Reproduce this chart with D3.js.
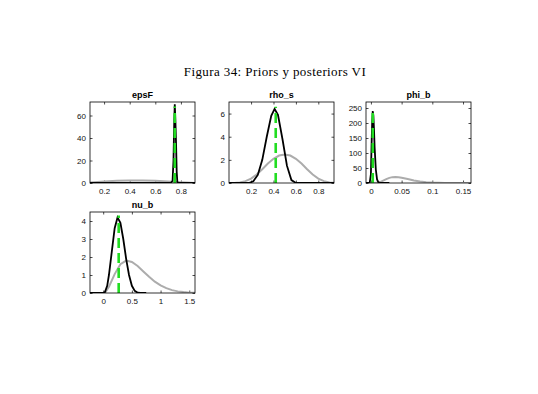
<!DOCTYPE html>
<html>
<head>
<meta charset="utf-8">
<script src="https://cdn.jsdelivr.net/npm/d3@7"></script>
<style>
  body { margin: 0; background: #fff; }
  svg text { font-family: "Liberation Sans", Arial, sans-serif; }
</style>
</head>
<body>
<div id="chart"></div>
<script>
// datos
const epsF_priorX = [0.09, 0.15, 0.2, 0.3, 0.4, 0.5, 0.6, 0.7, 0.8, 0.91];
const epsF_priorY = [0.5, 1.0, 1.3, 1.9, 2.2, 2.2, 1.9, 1.3, 0.6, 0.05];
const epsF_postX = [0.09, 0.72, 0.735, 0.742, 0.748, 0.752, 0.757, 0.762, 0.767, 0.772, 0.78, 0.91];
const epsF_postY = [0, 0, 2, 20, 55, 70, 55, 35, 10, 1, 0, 0];
const epsF_mode = 0.752, epsF_modeH = 68;

const rho_priorX = [0, 0.05, 0.1, 0.15, 0.2, 0.25, 0.3, 0.35, 0.4, 0.45, 0.5, 0.55, 0.6, 0.65, 0.7, 0.75, 0.8, 0.85, 0.9, 0.94];
const rho_priorY = [0, 0.01, 0.05, 0.16, 0.38, 0.73, 1.19, 1.68, 2.09, 2.37, 2.46, 2.37, 2.09, 1.68, 1.19, 0.73, 0.38, 0.16, 0.05, 0.02];
const rho_postX = [0, 0.18, 0.22, 0.26, 0.3, 0.34, 0.38, 0.41, 0.44, 0.48, 0.52, 0.56, 0.6, 0.94];
const rho_postY = [0, 0, 0.15, 0.7, 2.0, 4.0, 5.8, 6.4, 5.9, 3.8, 1.5, 0.25, 0, 0];
const rho_mode = 0.42, rho_modeH = 6.6;

const phi_priorX = [0.005, 0.01, 0.015, 0.02, 0.025, 0.03, 0.035, 0.04, 0.045, 0.05, 0.06, 0.07, 0.08, 0.09, 0.1, 0.11, 0.12, 0.13, 0.15, 0.165];
const phi_priorY = [0, 0.5, 3, 8, 13, 17, 19.5, 20, 19.5, 17.5, 13, 8.5, 5, 2.8, 1.5, 0.8, 0.4, 0.2, 0.05, 0.02];
const phi_postX = [-0.008, -0.002, 0, 0.001, 0.002, 0.003, 0.004, 0.005, 0.006, 0.008, 0.01, 0.012, 0.015, 0.03];
const phi_postY = [0, 0, 30, 120, 200, 240, 225, 180, 120, 45, 12, 3, 0, 0];
const phi_mode = 0.003, phi_modeH = 250;

const nu_priorX = [0.03, 0.1, 0.2, 0.3, 0.4, 0.5, 0.6, 0.7, 0.8, 0.9, 1.0, 1.1, 1.2, 1.3, 1.4, 1.5, 1.6];
const nu_priorY = [0, 0.35, 1.05, 1.6, 1.8, 1.72, 1.5, 1.2, 0.9, 0.63, 0.42, 0.27, 0.16, 0.09, 0.05, 0.02, 0.01];
const nu_postX = [-0.23, 0, 0.03, 0.07, 0.1, 0.15, 0.2, 0.25, 0.3, 0.35, 0.4, 0.45, 0.5, 0.55, 0.6, 0.65, 0.75];
const nu_postY = [0, 0, 0.05, 0.4, 1.0, 2.3, 3.6, 4.2, 3.9, 3.0, 1.9, 1.0, 0.4, 0.12, 0.02, 0, 0];
const nu_mode = 0.27, nu_modeH = 4.3;

const titles = ["epsF", "rho_s", "phi_b", "nu_b"];
const xTicks = [[0.2, 0.4, 0.6, 0.8], [0.2, 0.4, 0.6, 0.8], [0, 0.05, 0.1, 0.15], [0, 0.5, 1, 1.5]];
const yTicks = [[0, 20, 40, 60], [0, 2, 4, 6], [0, 50, 100, 150, 200, 250], [0, 1, 2, 3, 4]];
const xDomains = [[0.09, 0.91], [0.003, 0.94], [-0.008, 0.163], [-0.23, 1.6]];
const yDomains = [[0, 72], [0, 7], [0, 270], [0, 4.5]];

const W = 538, H = 394;
const pw = 105, ph = 81;
const lefts = [90, 229, 366, 90];
const tops = [102, 102, 102, 212];

const priors = [[epsF_priorX, epsF_priorY], [rho_priorX, rho_priorY], [phi_priorX, phi_priorY], [nu_priorX, nu_priorY]];
const posts = [[epsF_postX, epsF_postY], [rho_postX, rho_postY], [phi_postX, phi_postY], [nu_postX, nu_postY]];
const modes = [[epsF_mode, epsF_modeH], [rho_mode, rho_modeH], [phi_mode, phi_modeH], [nu_mode, nu_modeH]];

const svg = d3.select("#chart").append("svg")
  .attr("width", W)
  .attr("height", H);

svg.append("text")
  .attr("x", 275)
  .attr("y", 76)
  .attr("text-anchor", "middle")
  .style("font-family", "'Liberation Serif', 'DejaVu Serif', serif")
  .style("font-size", "13px")
  .style("letter-spacing", "0.4px")
  .text("Figura 34: Priors y posteriors VI");

titles.forEach((t, i) => {
  const g = svg.append("g").attr("transform", "translate(" + lefts[i] + "," + tops[i] + ")");

  const x = d3.scaleLinear().domain(xDomains[i]).range([0, pw]);
  const y = d3.scaleLinear().domain(yDomains[i]).range([ph, 0]);

  g.append("clipPath").attr("id", "clip" + i)
    .append("rect").attr("width", pw).attr("height", ph);

  // ejes con ticks hacia dentro en los cuatro lados
  const xb = g.append("g").attr("transform", "translate(0," + ph + ")")
    .call(d3.axisBottom(x).tickValues(xTicks[i]).tickSize(-2.5).tickPadding(5).tickFormat(d => String(d)));
  const xt = g.append("g")
    .call(d3.axisTop(x).tickValues(xTicks[i]).tickSize(-2.5).tickFormat(""));
  const yl = g.append("g")
    .call(d3.axisLeft(y).tickValues(yTicks[i]).tickSize(-2.5).tickPadding(4).tickFormat(d => String(d)));
  const yr = g.append("g").attr("transform", "translate(" + pw + ",0)")
    .call(d3.axisRight(y).tickValues(yTicks[i]).tickSize(-2.5).tickFormat(""));
  [xb, xt, yl, yr].forEach(a => {
    a.select(".domain").remove();
    a.selectAll("line").attr("stroke", "#000").attr("stroke-width", 0.7);
    a.selectAll("text").attr("fill", "#111").style("font-size", "8px");
  });

  const line = d3.line().x(d => x(d[0])).y(d => y(d[1]));
  const plot = g.append("g").attr("clip-path", "url(#clip" + i + ")");

  plot.append("path")
    .datum(priors[i][0].map((v, k) => [v, priors[i][1][k]]))
    .attr("d", line)
    .attr("fill", "none")
    .attr("stroke", "#acacac")
    .attr("stroke-width", 2);

  plot.append("path")
    .datum(posts[i][0].map((v, k) => [v, posts[i][1][k]]))
    .attr("d", line)
    .attr("fill", "none")
    .attr("stroke", "#000")
    .attr("stroke-width", 1.8);

  plot.append("line")
    .attr("x1", x(modes[i][0])).attr("x2", x(modes[i][0]))
    .attr("y1", y(0)).attr("y2", y(modes[i][1]))
    .attr("stroke", "#22dd22")
    .attr("stroke-width", 2.6)
    .attr("stroke-dasharray", "10,5");

  g.append("rect")
    .attr("width", pw).attr("height", ph)
    .attr("fill", "none")
    .attr("stroke", "#000")
    .attr("stroke-width", 0.8);

  g.append("text")
    .attr("x", pw / 2)
    .attr("y", -4)
    .attr("text-anchor", "middle")
    .style("font-size", "9px")
    .style("font-weight", "bold")
    .text(t);
});
</script>
</body>
</html>
